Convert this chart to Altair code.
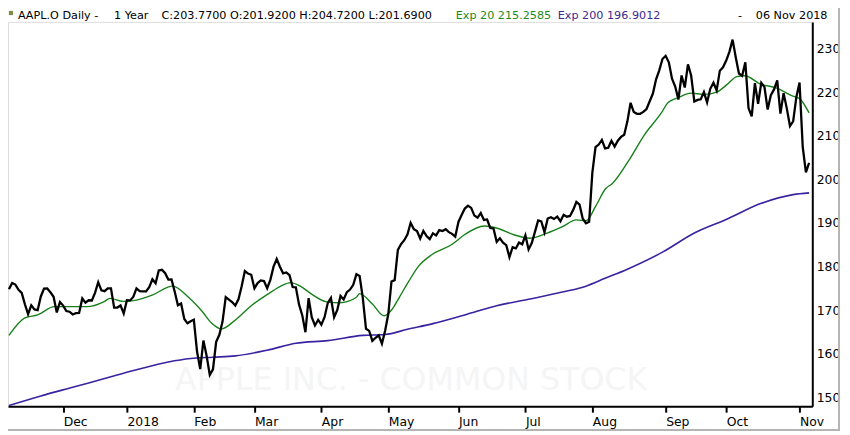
import altair as alt
import pandas as pd

# ---------------- data ----------------
close = [
    # Nov 2017
    174.81, 176.24, 175.88, 174.67, 173.97, 171.34, 169.08, 171.10, 170.15, 169.98,
    173.14, 174.96, 174.97, 174.09, 173.07, 169.48, 171.85,
    # Dec
    171.05, 169.80, 169.64, 169.01, 169.32, 169.37, 172.67, 171.70, 172.27, 172.22,
    173.97, 176.42, 174.54, 174.35, 175.01, 175.01, 170.57, 170.60, 171.08, 169.23,
    # Jan 2018
    172.26, 172.23, 173.03, 175.00, 174.35, 174.33, 174.29, 175.28, 177.09, 176.19,
    179.10, 179.26, 178.46, 177.00, 177.04, 174.22, 171.11, 171.51, 167.96, 166.97, 167.43,
    # Feb
    167.78, 160.50, 156.49, 163.03, 159.54, 155.15, 156.41, 162.71, 164.34, 167.37,
    172.99, 172.43, 171.85, 171.07, 172.50, 175.50, 178.97, 178.39, 178.12,
    # Mar
    175.00, 176.21, 176.82, 176.67, 175.03, 176.94, 179.98, 181.72, 179.97, 178.44,
    178.65, 178.02, 175.30, 175.24, 171.27, 168.85, 164.94, 172.77, 168.34, 166.48, 167.78,
    # Apr
    166.68, 168.39, 171.61, 172.80, 168.38, 170.05, 173.25, 172.44, 174.14, 174.73,
    175.82, 178.24, 177.84, 172.80, 165.72, 165.24, 162.94, 163.65, 164.22, 162.32, 165.26,
    # May
    169.10, 176.57, 176.89, 183.83, 185.16, 186.05, 187.36, 190.04, 188.59, 188.15,
    186.44, 188.18, 186.99, 186.31, 187.63, 187.16, 188.36, 188.15, 188.58, 187.90, 187.50, 186.87,
    # Jun
    190.24, 191.83, 193.31, 193.98, 193.46, 191.70, 191.23, 192.28, 190.70, 190.80,
    188.84, 188.74, 185.69, 186.50, 185.46, 184.92, 182.17, 184.43, 184.16, 185.50, 185.11,
    # Jul
    187.18, 183.92, 185.40, 187.97, 190.58, 190.35, 187.88, 191.03, 191.33, 190.91,
    191.45, 190.40, 191.88, 191.44, 191.61, 193.00, 194.82, 194.21, 190.98, 189.91, 190.29,
    # Aug
    201.50, 207.39, 207.99, 209.07, 207.11, 207.25, 208.88, 207.53, 208.87, 209.75,
    210.24, 213.32, 217.58, 215.46, 215.04, 215.05, 215.49, 216.16, 217.94, 219.70,
    222.98, 225.03, 227.63,
    # Sep
    228.36, 226.87, 223.10, 221.30, 218.33, 223.85, 221.07, 226.41, 223.84, 217.88,
    218.24, 218.37, 220.03, 217.66, 220.79, 222.19, 220.42, 224.95, 225.74,
    # Oct
    227.26, 229.28, 232.07, 227.99, 224.29, 223.77, 226.87, 216.36, 214.45, 222.11,
    217.36, 222.15, 221.19, 216.02, 219.31, 220.65, 222.73, 215.09, 219.80, 216.30,
    212.24, 213.30, 218.86,
    # Nov 2018
    222.22, 207.48, 201.59, 203.77,
]

# EMA 20 (green) at trading-day positions
ema20_idx = [0, 5, 9, 14.2, 19.4, 24.5, 29.7, 31.7, 35.8, 40, 45.1, 51.3, 56.4, 60.5,
             63.6, 66.7, 70.8, 76, 81.1, 85.3, 88.3, 91.4, 94.5, 99.7, 103.8, 108.9,
             110, 114, 117.7, 120.2, 122.5, 125.4, 128.5, 132.6, 138.8, 142.9, 149.1,
             153.2, 158.4, 163.5, 168.6, 173.8, 177.9, 181, 184.1, 187.2, 189.2, 194.4,
             199.5, 204.7, 206.7, 209.8, 214, 218, 222.2, 225.3, 228.3, 230.9, 235.6,
             240.7, 245.9, 247.9, 251]
ema20_val = [164.2, 168.2, 168.9, 170.8, 170.8, 170.8, 171.9, 172.7, 172.0, 172.3,
             173.5, 175.5, 172.9, 169.8, 167.0, 165.7, 167.6, 171.0, 173.6, 175.5,
             176.3, 175.5, 173.9, 171.9, 171.7, 172.9, 173.8, 171.4, 168.7, 170.2,
             173.0, 176.6, 180.1, 182.7, 185.0, 187.3, 189.3, 188.8, 187.3, 186.5,
             187.6, 189.2, 190.7, 190.5, 193.9, 197.9, 199.0, 204.3, 210.4, 215.3,
             217.6, 218.7, 219.8, 219.5, 220.1, 221.8, 223.6, 223.8, 221.9, 221.0,
             219.1, 218.6, 215.26]

# EMA 200 (purple)
ema200_idx = [0, 10, 20, 30, 40, 50, 57, 64, 71, 81, 90, 100, 111, 118, 125, 133, 143,
              153, 163, 174, 181, 187, 194, 205, 215, 225, 236, 246, 251]
ema200_val = [148.1, 150.3, 152.3, 154.3, 156.3, 158.1, 158.9, 159.2, 159.5, 160.8,
              162.4, 163.0, 164.2, 164.4, 165.6, 166.9, 168.9, 171.0, 172.5, 174.2,
              175.5, 177.3, 179.4, 183.3, 187.7, 190.8, 194.5, 196.5, 196.9]

month_idx = [17, 37, 58, 77, 98, 119, 141, 162, 183, 206, 225, 248]
month_lbl = ["Dec", "2018", "Feb", "Mar", "Apr", "May", "Jun", "Jul", "Aug", "Sep", "Oct", "Nov"]
y_ticks = [150, 160, 170, 180, 190, 200, 210, 220, 230]

hdr_main = "AAPL.O Daily -"
hdr_span = "1 Year"
hdr_ohlc = "C:203.7700 O:201.9200 H:204.7200 L:201.6900"
hdr_ema20 = "Exp 20 215.2585"
hdr_ema200 = "Exp 200 196.9012"
hdr_date = "06 Nov 2018"
watermark = "APPLE INC. - COMMON STOCK"

# ---------------- chart ----------------
FONT = "DejaVu Sans"
W, H = 812, 388
xs = alt.Scale(domain=[-0.3, 252], nice=False, zero=False)
ys = alt.Scale(domain=[147.95, 236.14], nice=False, zero=False)

df_close = pd.DataFrame({"i": list(range(len(close))), "v": close})
df_e20 = pd.DataFrame({"i": ema20_idx, "v": ema20_val})
df_e200 = pd.DataFrame({"i": ema200_idx, "v": ema200_val})
one = pd.DataFrame({"a": [0]})

label_expr = " : ".join(f"datum.value == {i} ? '{l}'" for i, l in zip(month_idx, month_lbl)) + " : ''"

x_axis = alt.Axis(values=month_idx, labelExpr=label_expr, orient="bottom",
                  domainColor="black", domainWidth=2, tickColor="black", tickWidth=2,
                  tickSize=6, labelAlign="left", labelBaseline="top", labelPadding=3,
                  labelFont=FONT, labelFontSize=12.5, labelColor="black", grid=False,
                  title=None, labelOverlap=False, labelFlush=False, labelBound=False)
y_axis = alt.Axis(orient="right", values=y_ticks, ticks=False, domainColor="black",
                  domainWidth=2, labelPadding=4, labelFont=FONT, labelFontSize=12.5,
                  labelColor="black", grid=False, title=None, labelBaseline="middle",
                  labelOverlap=False, labelFlush=False, labelBound=False)

X = alt.X("i:Q", scale=xs, axis=x_axis)
Y = alt.Y("v:Q", scale=ys, axis=y_axis)

wm = alt.Chart(one).mark_text(text=watermark, font=FONT, fontSize=32, color="#f5f5f5",
                              align="center", baseline="middle").encode(
    x=alt.value(407), y=alt.value(362))

e200 = alt.Chart(df_e200).mark_line(color="#3a22a0", strokeWidth=1.6,
                                    interpolate="monotone").encode(x=X, y=Y)
e20 = alt.Chart(df_e20).mark_line(color="#17801a", strokeWidth=1.4,
                                  interpolate="monotone").encode(x=X, y=Y)
price = alt.Chart(df_close).mark_line(color="black", strokeWidth=2.3).encode(x=X, y=Y)

def htext(t, px, color):
    return alt.Chart(one).mark_text(text=t, font=FONT, fontSize=11.3, color=color,
                                    align="left", baseline="alphabetic").encode(
        x=alt.value(px - 8), y=alt.value(-3))

icon = alt.Chart(one).mark_square(size=18, color="#7d8c48", opacity=1).encode(
    x=alt.value(3), y=alt.value(-9))

frame_r = alt.Chart(one).mark_rule(color="#b4b4b4", strokeWidth=2).encode(
    x=alt.value(839), y=alt.value(-20), y2=alt.value(413))
frame_b = alt.Chart(one).mark_rule(color="#b4b4b4", strokeWidth=2).encode(
    x=alt.value(0), x2=alt.value(840), y=alt.value(412))

chart = alt.layer(
    wm, e200, e20, price,
    icon,
    htext(hdr_main, 18, "black"),
    htext(hdr_span, 115, "black"),
    htext(hdr_ohlc, 163, "black"),
    htext(hdr_ema20, 460, "#1c8a1c"),
    htext(hdr_ema200, 563, "#3d2a8e"),
    htext("-", 745, "black"),
    htext(hdr_date, 763, "black"),
    frame_r, frame_b,
).properties(
    width=W, height=H,
    autosize=alt.AutoSizeParams(type="none"),
    padding={"left": 0, "top": 12, "right": 30, "bottom": 26},
).configure_view(stroke=None).configure(background="white")

chart.save("out.html", embed_options={"renderer": "svg", "actions": False})
